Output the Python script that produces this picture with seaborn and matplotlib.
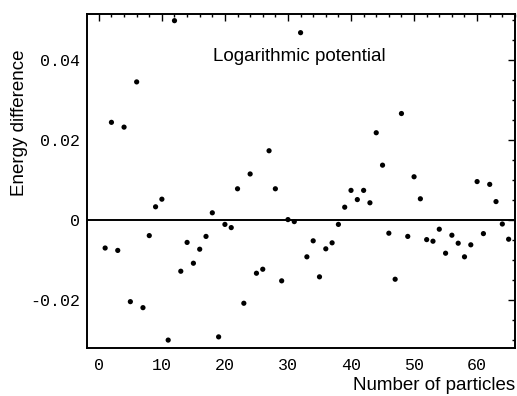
import matplotlib
matplotlib.use("Agg")
import matplotlib.pyplot as plt
from matplotlib.ticker import MultipleLocator
import pandas as pd
import seaborn as sns

# --- data ---
n_particles = [
    1, 2, 3, 4, 5, 6, 7, 8, 9, 10, 11, 12, 13, 14, 15, 16, 17, 18, 19, 20,
    21, 22, 23, 24, 25, 26, 27, 28, 29, 30, 31, 32, 33, 34, 35, 36, 37, 38, 39, 40,
    41, 42, 43, 44, 45, 46, 47, 48, 49, 50, 51, 52, 53, 54, 55, 56, 57, 58, 59, 60,
    61, 62, 63, 64, 65,
]
energy_diff = [
    -0.0070, 0.0244, -0.0076, 0.0232, -0.0204, 0.0345, -0.0219, -0.0039, 0.0033, 0.0052,
    -0.0300, 0.0498, -0.0128, -0.0056, -0.0108, -0.0073, -0.0041, 0.0018, -0.0292, -0.0011,
    -0.0019, 0.0078, -0.0208, 0.0115, -0.0133, -0.0123, 0.0173, 0.0078, -0.0152, 0.0001,
    -0.0004, 0.0468, -0.0092, -0.0052, -0.0142, -0.0072, -0.0057, -0.0011, 0.0032, 0.0074,
    0.0051, 0.0074, 0.0043, 0.0218, 0.0137, -0.0033, -0.0148, 0.0266, -0.0041, 0.0108,
    0.0053, -0.0049, -0.0053, -0.0023, -0.0083, -0.0038, -0.0058, -0.0092, -0.0062, 0.0096,
    -0.0034, 0.0089, 0.0046, -0.0010, -0.0048,
]
x_ticks = [0, 10, 20, 30, 40, 50, 60]
y_ticks = [-0.02, 0, 0.02, 0.04]
y_tick_labels = ["-0.02", "0", "0.02", "0.04"]

df = pd.DataFrame({"n": n_particles, "dE": energy_diff})

sns.set_style("white")
plt.rcParams["font.family"] = ["Liberation Sans", "DejaVu Sans"]
plt.rcParams.update({"text.color": "black", "axes.labelcolor": "black",
                     "xtick.color": "black", "ytick.color": "black"})

fig = plt.figure(figsize=(5.17, 3.96), dpi=100)
ax = fig.add_axes([0.168, 0.121, 0.828, 0.844])

sns.scatterplot(data=df, x="n", y="dE", ax=ax, color="black", s=14,
                edgecolor="none", legend=False)
ax.axhline(0, color="black", lw=1.4, zorder=0)

ax.set_xlim(-1.9, 66.0)
ax.set_ylim(-0.032, 0.0515)

# Mathematica-style frame: ticks pointing in on all four sides
ax.set_xticks(x_ticks)
ax.set_yticks(y_ticks)
ax.set_yticklabels(y_tick_labels)
ax.xaxis.set_minor_locator(MultipleLocator(2))
ax.yaxis.set_minor_locator(MultipleLocator(0.005))
ax.tick_params(which="both", direction="in", top=True, right=True,
               color="black", labelcolor="black", width=1.0)
ax.tick_params(which="major", length=5)
ax.tick_params(which="minor", length=2.5)
ax.tick_params(axis="x", which="major", pad=7)
ax.tick_params(axis="y", which="major", pad=5)
for lbl in ax.get_xticklabels() + ax.get_yticklabels():
    lbl.set_family(["Liberation Mono", "DejaVu Sans Mono"])
    lbl.set_fontsize(12)
for side in ax.spines.values():
    side.set_color("black")
    side.set_linewidth(1.4)

ax.set_xlabel("")
ax.set_ylabel("")
fig.text(0.996, 0.026, "Number of particles", ha="right", va="center",
         fontsize=13.5, color="black")
fig.text(0.038, 0.69, "Energy difference", rotation=90, ha="center", va="center",
         fontsize=13.5, color="black")
ax.text(18.1, 0.0398, "Logarithmic potential", ha="left", va="baseline",
        fontsize=13.5, color="black")

fig.savefig("out.png", dpi=100)
plt.close(fig)
